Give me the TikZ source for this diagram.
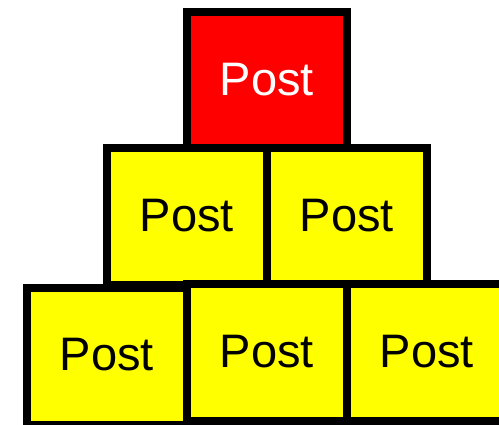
\documentclass[tikz,border=0pt]{standalone}
\usepackage{fontspec}
\setmainfont{Liberation Sans}
\definecolor{postred}{RGB}{255,0,0}
\definecolor{postyellow}{RGB}{255,255,0}
\begin{document}
\begin{tikzpicture}[x=1pt, y=-1pt]
    % Define styles
    \tikzset{
        post/.style={
            draw,
            rectangle,
            line width=8pt,
            minimum width=160pt,
            minimum height=137pt,
            inner sep=0pt,
            text height=33pt,
            text depth=4pt,
            font=\fontsize{47}{47}\selectfont
        },
        redpost/.style={
            post,
            fill=postred,
            text=white
        },
        yellowpost/.style={
            post,
            fill=postyellow
        }
    }

    % Page area
    \clip (0,0) rectangle (499,425);

    % Top row
    \node[redpost] (top) at (267,81) {Post};

    % Middle row
    \node[yellowpost] (midleft) at (187,217) {Post};
    \node[yellowpost] (midright) at (347,217) {Post};

    % Bottom row
    \node[yellowpost] (botleft) at (107,356.5) {Post};
    \node[yellowpost] (botmid) at (267,353) {Post};
    \node[yellowpost] (botright) at (427,353) {Post};

\end{tikzpicture}
\end{document}
